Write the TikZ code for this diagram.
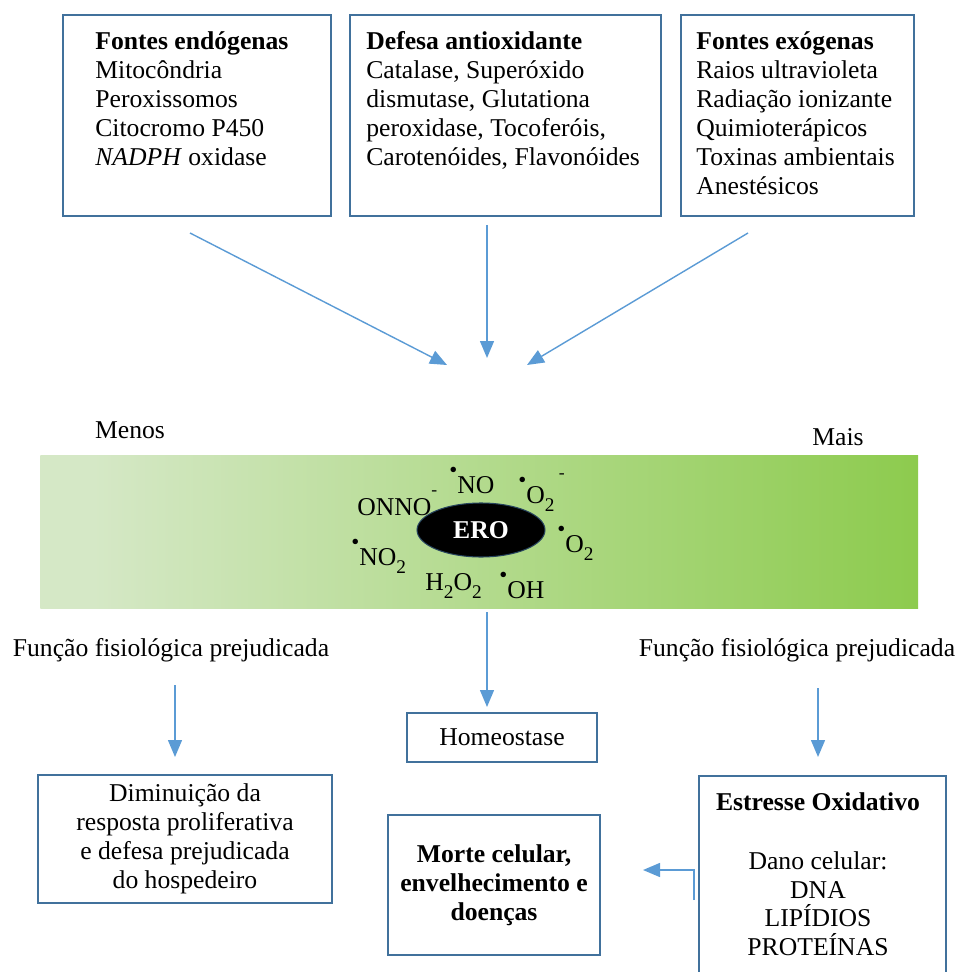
\documentclass[tikz,border=0pt]{standalone}
\usepackage{fontspec}
\setmainfont{Liberation Serif}
\usetikzlibrary{arrows.meta,shapes.geometric}
\definecolor{arrowblue}{HTML}{5B9BD5}
\definecolor{boxblue}{HTML}{41719C}
\definecolor{barlight}{HTML}{D5E8C6}
\definecolor{bardark}{HTML}{8DCB4E}
\pgfdeclarehorizontalshading{erobar}{100bp}{color(0bp)=(barlight); color(28bp)=(barlight); color(75bp)=(bardark); color(100bp)=(bardark)}
\newcommand{\erodot}{\raisebox{9pt}{\fontsize{13}{13}\selectfont\textbullet}}
\newcommand{\erosub}[1]{\raisebox{-5pt}{\fontsize{11}{11}\selectfont #1}}
\newcommand{\eromin}[1]{\raisebox{#1}{\fontsize{10}{10}\selectfont -}}

\begin{document}
\begin{tikzpicture}[x=0.02cm,y=-0.02cm,
    every node/.style={font=\fontsize{14.6}{16.5}\selectfont,inner sep=0pt},
    box/.style={draw=boxblue,line width=0.9pt},
    conn/.style={draw=arrowblue,line width=0.8pt,-{Triangle[length=3.4mm,width=2.8mm]}},
    txt/.style={align=left,anchor=north west},
    chem/.style={anchor=base west}]
    \path[use as bounding box,clip] (0,0) rectangle (960,972);

    \node[box,anchor=north west,minimum width=5.36cm,minimum height=4.02cm] (endo) at (62,14) {};
    \node[box,anchor=north west,minimum width=6.22cm,minimum height=4.02cm] (defesa) at (349,14) {};
    \node[box,anchor=north west,minimum width=4.66cm,minimum height=4.02cm] (exo) at (680,14) {};
    \node[txt] (endotxt) at (95,31) {\textbf{Fontes endógenas}\\Mitocôndria\\Peroxissomos\\Citocromo P450\\\textit{NADPH} oxidase};
    \node[txt] (defesatxt) at (366,31) {\textbf{Defesa antioxidante}\\Catalase, Superóxido\\dismutase, Glutationa\\peroxidase, Tocoferóis,\\Carotenóides, Flavonóides};
    \node[txt] (exotxt) at (696,31) {\textbf{Fontes exógenas}\\Raios ultravioleta\\Radiação ionizante\\Quimioterápicos\\Toxinas ambientais\\Anestésicos};

    \coordinate (endoout) at (190,233);
    \coordinate (defesaout) at (487,225);
    \coordinate (exoout) at (748,233);
    \coordinate (eroinL) at (447,365);
    \coordinate (eroinM) at (487,358);
    \coordinate (eroinR) at (527,365);
    \draw[conn] (endoout) -- (eroinL);
    \draw[conn] (defesaout) -- (eroinM);
    \draw[conn] (exoout) -- (eroinR);

    \node (menos) at (130,430) {Menos};
    \node (mais) at (838,437) {Mais};
    \node[shading=erobar,anchor=north west,minimum width=17.56cm,minimum height=3.06cm] (bar) at (40,455) {};
    \node[ellipse,draw=boxblue!60!black,line width=0.6pt,fill=black,text=white,font=\fontsize{14.6}{16.5}\selectfont\bfseries,minimum width=2.56cm,minimum height=1.08cm] (ero) at (481,530) {ERO};
    \node[chem] (onno) at (357,515) {ONNO\eromin{11pt}};
    \node[chem] (no) at (449,493) {\erodot NO};
    \node[chem] (superox) at (518,503) {\erodot O\erosub{2}\,\eromin{14pt}};
    \node[chem] (oxy) at (557,552) {\erodot O\erosub{2}};
    \node[chem] (notwo) at (351,565) {\erodot NO\erosub{2}};
    \node[chem] (perox) at (425,590) {H\erosub{2}O\erosub{2}};
    \node[chem] (oh) at (499,598) {\erodot OH};

    \node (funcL) at (171,650) {Função fisiológica prejudicada};
    \node (funcR) at (797,650) {Função fisiológica prejudicada};
    \node[box,minimum width=3.8cm,minimum height=0.98cm] (homeo) at (502,737.5) {Homeostase};
    \node[box,align=center,minimum width=5.88cm,minimum height=2.56cm] (dimin) at (185,839) {Diminuição da\\resposta proliferativa\\e defesa prejudicada\\do hospedeiro};
    \node[box,align=center,font=\fontsize{14.6}{16.5}\selectfont\bfseries,minimum width=4.24cm,minimum height=2.8cm] (morte) at (494,885) {Morte celular,\\envelhecimento e\\doenças};
    \node[box,anchor=north west,minimum width=4.94cm,minimum height=4.6cm] (stress) at (698,775) {};
    \node[align=center,anchor=north] (stresstxt) at (818,792) {\textbf{Estresse Oxidativo}\\[17pt]Dano celular:\\DNA\\LIPÍDIOS\\PROTEÍNAS};

    \coordinate (funcLout) at (175,685);
    \coordinate (diminin) at (175,757);
    \coordinate (barout) at (487,612);
    \coordinate (homeoin) at (487,707);
    \coordinate (funcRout) at (818,688);
    \coordinate (stressin) at (818,757);
    \coordinate (stressout) at (694,900);
    \coordinate (mortein) at (643,870);
    \draw[conn] (funcLout) -- (diminin);
    \draw[conn] (barout) -- (homeoin);
    \draw[conn] (funcRout) -- (stressin);
    \draw[conn] (stressout) |- (mortein);
\end{tikzpicture}
\end{document}
